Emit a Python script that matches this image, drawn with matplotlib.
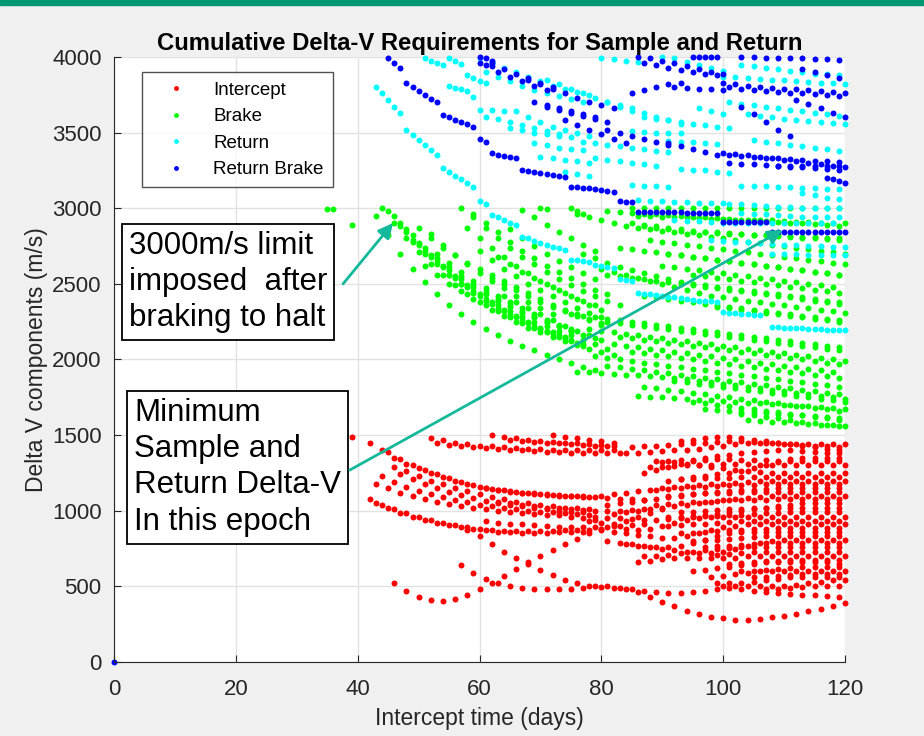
import numpy as np
import matplotlib
matplotlib.use("Agg")
import matplotlib.pyplot as plt
from matplotlib.lines import Line2D
from matplotlib.patches import Rectangle

plt.rcParams['font.family'] = ['Liberation Sans', 'DejaVu Sans']

# each curve: (first day, day step, delta-v values in m/s)
red_curves = [
    (39, 1, [1490]),
    (46, 2, [520, 470, 430, 410, 405, 415, 440, 480, 525, 570, 615, 660, 700, 740, 780, 815, 850, 880, 910, 935, 960, 985, 1010]),
    (58, 2, [870, 830, 780, 730, 690, 650, 610, 575, 545, 520, 505, 495, 490, 480, 460, 430, 400, 370, 340, 315,
             300, 290, 280, 280, 285, 295, 305, 320, 335, 350, 370, 390]),
    (57, 2, [640, 590, 550, 520, 500, 490, 485, 480, 480, 485, 490, 500, 500, 490, 480, 470, 460, 455, 455, 460,
             470, 480, 490, 480, 470, 460, 455, 450, 445, 440, 435, 430]),
    (42, 2, [1080, 1040, 1010, 985, 960, 940, 920, 905, 890, 880, 872, 868, 865, 865, 865, 865, 870, 870, 870]),
    (43, 2, [1180, 1150, 1120, 1100, 1080, 1060, 1045, 1030, 1020, 1010, 1000, 990, 985, 980, 975, 970, 960, 950, 940]),
    (44, 2, [1230, 1190, 1160, 1130, 1110, 1090, 1070, 1055, 1040, 1030, 1020, 1010, 1000, 995, 990, 985, 980, 975]),
    (42, 2, [1450, 1400, 1350, 1310, 1280, 1250, 1220, 1195, 1175, 1160, 1145, 1135, 1125, 1115, 1110, 1105, 1100, 1095, 1090]),
    (46, 2, [1290, 1260, 1230, 1200, 1175, 1150, 1130, 1110, 1090, 1075, 1060, 1050, 1040, 1030, 1020, 1015, 1010]),
    (47, 2, [1240, 1210, 1180, 1150, 1125, 1105, 1085, 1065, 1050, 1040, 1030, 1020, 1010, 1000, 995, 990]),
    (43, 2, [1050, 1015, 985, 960, 940, 920, 905, 890, 880, 870, 862, 858, 855, 855, 855, 858, 860, 862]),
    (45, 2, [1390, 1345, 1305, 1270, 1240, 1215, 1190, 1170, 1152, 1138, 1126, 1116, 1108, 1102, 1098, 1095, 1092]),
    (52, 2, [1480, 1465, 1450, 1440, 1430, 1425, 1420, 1415, 1410, 1410, 1405, 1405, 1400, 1400, 1400, 1400]),
    (53, 2, [1445, 1435, 1425, 1420, 1415, 1410, 1405, 1400, 1395, 1390, 1390, 1385, 1385, 1380, 1380, 1380]),
    (62, 2, [1500, 1490, 1480, 1470, 1460, 1455, 1450, 1445, 1440, 1435, 1430]),
    (65, 2, [1470, 1460, 1455, 1450, 1445, 1440, 1435, 1430, 1425]),
    (72, 2, [1500, 1490, 1480, 1470, 1460, 1450]),
    (61, 2, [1150, 1140, 1130, 1120, 1115, 1110, 1105, 1100, 1095, 1090, 1085, 1080, 1075, 1070]),
    (63, 2, [1060, 1050, 1040, 1030, 1020, 1015, 1010, 1005, 1000, 1000, 1000, 1005, 1010]),
    (61, 2, [930, 920, 915, 910, 905, 900, 895, 890, 890, 890, 895, 900, 905, 910]),
    (84, 2, [1380, 1385, 1390, 1395, 1400, 1405, 1410, 1420, 1430, 1440, 1450, 1450, 1445, 1440, 1440, 1440, 1440, 1440, 1440]),
    (85, 2, [1420, 1425, 1430, 1435, 1440, 1445, 1450, 1455, 1460, 1460, 1455, 1450, 1445, 1440, 1435, 1430, 1425, 1420]),
    (93, 2, [1460, 1470, 1480, 1490, 1490, 1480, 1470, 1460, 1450, 1440, 1430, 1420, 1410, 1400]),
    (87, 2, [1250, 1270, 1290, 1310, 1330, 1350, 1360, 1370, 1380, 1390, 1395, 1400, 1400, 1395, 1390, 1385, 1380]),
    (89, 2, [1330, 1332, 1334, 1336, 1338, 1340, 1340, 1338, 1336, 1334, 1332, 1330, 1330, 1330, 1330, 1330]),
    (88, 2, [1290, 1290, 1295, 1300, 1300, 1305, 1310, 1310, 1310, 1305, 1300, 1300, 1300, 1300, 1300, 1300, 1300]),
    (90, 2, [1320, 1320, 1310, 1300, 1290, 1280, 1270, 1260, 1255, 1250, 1250, 1250, 1250, 1250, 1250, 1250]),
    (91, 2, [1200, 1210, 1220, 1230, 1240, 1250, 1260, 1280, 1300, 1320, 1340, 1350, 1350, 1350, 1350]),
    (93, 2, [1210, 1212, 1214, 1216, 1218, 1220, 1222, 1224, 1225, 1225, 1225, 1225, 1225, 1225]),
    (80, 2, [1100, 1110, 1120, 1130, 1140, 1150, 1160, 1165, 1170, 1175, 1180, 1185, 1190, 1195, 1200, 1200, 1200, 1200, 1200, 1200, 1200]),
    (89, 2, [1140, 1145, 1150, 1155, 1160, 1165, 1168, 1170, 1172, 1174, 1175, 1175, 1175, 1175, 1175, 1175]),
    (81, 2, [1040, 1050, 1060, 1070, 1080, 1090, 1100, 1110, 1120, 1125, 1130, 1135, 1140, 1145, 1150, 1150, 1150, 1150, 1150, 1150]),
    (91, 2, [1100, 1105, 1110, 1115, 1118, 1120, 1122, 1124, 1125, 1125, 1125, 1125, 1125, 1125, 1125]),
    (82, 2, [980, 990, 1000, 1010, 1020, 1030, 1040, 1050, 1060, 1070, 1080, 1085, 1090, 1095, 1100, 1100, 1100, 1100, 1100, 1100]),
    (89, 2, [1040, 1045, 1050, 1055, 1060, 1065, 1068, 1070, 1072, 1074, 1075, 1075, 1075, 1075, 1075, 1075]),
    (79, 2, [960, 955, 950, 945, 940, 940, 945, 950, 960, 970, 980, 990, 1000, 1010, 1020, 1030, 1040, 1050, 1050, 1050, 1050]),
    (93, 2, [990, 995, 1000, 1005, 1010, 1012, 1015, 1018, 1020, 1020, 1020, 1020, 1020, 1020]),
    (78, 2, [930, 920, 900, 880, 870, 880, 900, 920, 940, 950, 960, 960, 960, 960, 960, 960, 960, 960, 960, 960, 960, 960]),
    (91, 2, [960, 962, 964, 966, 968, 970, 975, 980, 985, 988, 990, 990, 990, 990, 990]),
    (80, 2, [870, 860, 850, 840, 830, 820, 820, 830, 850, 870, 890, 900, 910, 910, 910, 910, 910, 910, 910, 910, 910]),
    (91, 2, [900, 905, 910, 915, 920, 925, 930, 932, 934, 935, 935, 935, 935, 935, 935]),
    (81, 2, [800, 790, 780, 770, 760, 760, 770, 790, 810, 830, 850, 860, 860, 860, 860, 860, 860, 860, 860, 860]),
    (93, 2, [850, 855, 860, 865, 870, 875, 880, 882, 884, 885, 885, 885, 885, 885]),
    (84, 2, [780, 770, 760, 750, 740, 730, 720, 720, 730, 750, 770, 790, 800, 810, 810, 810, 810, 810, 810]),
    (95, 2, [800, 805, 810, 815, 820, 825, 830, 835, 835, 835, 835, 835, 835]),
    (87, 2, [700, 700, 710, 720, 730, 740, 750, 755, 760, 760, 760, 760, 760, 760, 760, 760, 760]),
    (97, 2, [760, 765, 770, 775, 780, 785, 785, 785, 785, 785, 785, 785]),
    (86, 2, [660, 670, 680, 690, 690, 690, 690, 690, 690, 700, 700, 700, 700, 700, 700, 700, 700, 700]),
    (99, 2, [710, 715, 720, 725, 730, 730, 730, 730, 730, 730, 730]),
    (95, 2, [600, 610, 620, 630, 640, 650, 660, 660, 660, 660, 660, 660, 650]),
    (101, 2, [650, 655, 660, 665, 670, 675, 675, 675, 675, 675]),
    (98, 2, [560, 570, 580, 590, 600, 600, 600, 600, 600, 600, 600, 600]),
    (103, 2, [600, 605, 610, 615, 620, 625, 625, 625, 625]),
    (99, 2, [520, 520, 520, 530, 540, 550, 560, 560, 560, 560, 560]),
    (105, 2, [560, 565, 570, 575, 580, 580, 580, 580]),
    (100, 2, [500, 500, 500, 500, 500, 500, 510, 520, 530, 540, 540]),
    (107, 2, [480, 485, 490, 495, 500, 500, 500]),
]

green_curves = [
    (35, 1, [2995, 2995]),
    (39, 1, [2890]),
    (43, 2, [2950, 2820, 2700, 2600, 2510, 2430, 2360, 2300, 2250, 2200, 2160, 2120, 2090, 2060, 2030, 2000, 1975, 1950, 1930]),
    (44, 2, [3000, 2900, 2800, 2710, 2630, 2560, 2490, 2430, 2380, 2330, 2290, 2250, 2210, 2180, 2150, 2120, 2095, 2070, 2050, 2030]),
    (45, 2, [2980, 2880, 2790, 2720, 2650, 2590, 2530, 2480, 2430, 2390, 2350, 2310, 2280, 2250, 2220, 2190]),
    (46, 2, [2950, 2860, 2770, 2690, 2620, 2550, 2490, 2430, 2380, 2330, 2290, 2250, 2210, 2180, 2150]),
    (47, 2, [2900, 2820, 2740, 2670, 2610, 2550, 2500, 2450, 2400, 2360, 2320, 2280, 2250, 2220, 2190, 2165, 2140]),
    (48, 2, [2840, 2760, 2680, 2610, 2540, 2480, 2420, 2370, 2320, 2280, 2240, 2200, 2170, 2140, 2110]),
    (49, 2, [2780, 2700, 2630, 2560, 2500, 2440, 2390, 2340, 2300, 2260, 2220, 2190, 2160, 2130, 2100]),
    (50, 2, [2870, 2800, 2740, 2690, 2640, 2600, 2560, 2520, 2480, 2440, 2400, 2360, 2330, 2300, 2270, 2240]),
    (51, 2, [2620, 2560, 2500, 2450, 2400, 2360, 2320, 2280, 2240, 2210, 2180, 2150, 2120, 2090]),
    (52, 2, [2830, 2760, 2690, 2630, 2570, 2520, 2470, 2420, 2380, 2340, 2300]),
    (53, 2, [2700, 2640, 2580, 2520, 2470, 2420, 2380, 2340, 2300, 2260, 2230, 2200]),
    (55, 2, [2560, 2500, 2450, 2400, 2360, 2320, 2280, 2250, 2220, 2190, 2160, 2130, 2100, 2070]),
    (57, 2, [3000, 2940, 2870, 2800, 2740, 2680, 2630, 2580, 2530, 2490, 2450, 2420, 2390, 2360]),
    (58, 2, [2870, 2800, 2740, 2680, 2620, 2570, 2520, 2480, 2440, 2400, 2360, 2330]),
    (59, 2, [2960, 2900, 2840, 2780, 2720, 2670, 2620, 2580, 2540, 2500, 2460, 2430]),
    (60, 2, [2720, 2660, 2600, 2550, 2500, 2460, 2420, 2380, 2340, 2310, 2280]),
    (62, 2, [2540, 2500, 2460, 2420, 2380, 2350, 2320, 2290, 2260, 2230]),
    (63, 2, [2680, 2630, 2580, 2540, 2500, 2460, 2420, 2390, 2360]),
    (64, 2, [2420, 2380, 2340, 2300, 2260, 2220, 2190, 2160, 2130]),
    (65, 2, [2860, 2800, 2750, 2700, 2650, 2610, 2570, 2530]),
    (67, 2, [2990, 2940, 2890, 2840, 2800, 2760, 2720]),
    (70, 1, [3000, 2995]),
    (75, 1, [3000, 2980, 2960]),
    (76, 2, [2960, 2940, 2920, 2900, 2880, 2870, 2860, 2850, 2840, 2830, 2820, 2810, 2800, 2790, 2780, 2770, 2760, 2750, 2740, 2730, 2720, 2710, 2700]),
    (81, 2, [2980, 2975, 2970, 2965, 2960, 2955, 2950, 2945, 2940, 2935, 2930, 2925, 2920, 2915, 2910, 2905, 2900, 2895, 2890, 2885]),
    (85, 2, [3000, 3000, 3000, 3000, 3000, 3000, 3000, 3000, 3000, 3000, 3000, 3000, 3000, 3000, 3000, 3000, 3000, 3000]),
    (86, 2, [2950, 2950, 2945, 2940, 2940, 2935, 2930, 2930, 2925, 2920, 2920, 2920, 2915, 2910, 2910, 2905, 2900, 2900]),
    (85, 2, [2900, 2890, 2880, 2870, 2860, 2850, 2845, 2840, 2835, 2830, 2825, 2820, 2815, 2810, 2805, 2800, 2795, 2790]),
    (87, 2, [2880, 2870, 2860, 2850, 2845, 2840, 2835, 2830, 2830, 2825, 2820, 2820, 2815, 2810, 2810, 2805, 2800]),
    (88, 2, [2790, 2780, 2770, 2760, 2750, 2740, 2730, 2720, 2710, 2700, 2690, 2680, 2670, 2660, 2650, 2640, 2630]),
    (83, 2, [2740, 2730, 2720, 2710, 2700, 2690, 2680, 2670, 2660, 2650, 2640, 2630, 2620, 2610, 2600, 2590, 2580, 2570, 2560]),
    (91, 2, [2700, 2690, 2680, 2670, 2660, 2650, 2640, 2630, 2620, 2610, 2600, 2590, 2580, 2570, 2560]),
    (77, 2, [2700, 2670, 2640, 2610, 2590, 2570, 2550, 2530, 2510, 2500, 2490, 2480, 2470, 2460, 2450, 2440, 2430, 2420, 2410, 2400, 2390, 2380]),
    (80, 2, [2600, 2580, 2560, 2540, 2520, 2500, 2480, 2460, 2440, 2420, 2410, 2400, 2390, 2380, 2370, 2360, 2350, 2340, 2330, 2320, 2310]),
    (81, 2, [2560, 2550, 2540, 2530, 2520, 2510, 2500, 2490, 2480, 2470, 2460, 2450, 2440, 2430, 2420, 2410, 2400, 2390, 2380, 2370]),
    (90, 2, [2620, 2610, 2600, 2590, 2580, 2570, 2560, 2550, 2540, 2530, 2520, 2510, 2500, 2490, 2480]),
    (95, 2, [2560, 2550, 2540, 2530, 2520, 2510, 2500, 2490, 2480, 2470, 2460, 2450, 2440]),
    (87, 2, [2420, 2410, 2400, 2390, 2380, 2370, 2360, 2350, 2340, 2330, 2320, 2310, 2300, 2290, 2280, 2270, 2260]),
    (99, 2, [2350, 2340, 2330, 2320, 2310, 2300, 2290, 2280, 2270, 2260, 2250]),
    (75, 2, [2300, 2290, 2280, 2270, 2260, 2250, 2240, 2230, 2220, 2210, 2200, 2190, 2180, 2170, 2160, 2150, 2140, 2130, 2120, 2110, 2100, 2090, 2080]),
    (81, 2, [2250, 2240, 2230, 2220, 2210, 2200, 2190, 2180, 2170, 2160, 2150, 2140, 2130, 2120, 2110, 2100, 2090, 2080, 2070, 2060]),
    (78, 2, [2200, 2190, 2180, 2170, 2160, 2150, 2140, 2130, 2120, 2110, 2100, 2090, 2080, 2070, 2060, 2050, 2040, 2030, 2020, 2010, 2000, 1990]),
    (83, 2, [2150, 2140, 2130, 2120, 2110, 2100, 2090, 2080, 2070, 2060, 2050, 2040, 2030, 2020, 2010, 2000, 1990, 1980, 1970]),
    (82, 2, [2100, 2090, 2080, 2070, 2060, 2050, 2040, 2030, 2020, 2010, 2000, 1990, 1980, 1970, 1960, 1950, 1940, 1930, 1920]),
    (85, 2, [2050, 2040, 2030, 2020, 2010, 2000, 1990, 1980, 1970, 1960, 1950, 1940, 1930, 1920, 1910, 1900, 1890, 1880]),
    (79, 2, [2020, 2010, 2000, 1990, 1980, 1970, 1960, 1950, 1940, 1930, 1920, 1910, 1900, 1890, 1880, 1870, 1860, 1850, 1840, 1830, 1820]),
    (81, 2, [1960, 1950, 1940, 1930, 1920, 1910, 1900, 1890, 1880, 1870, 1860, 1850, 1840, 1830, 1820, 1810, 1800, 1790, 1780, 1770]),
    (76, 2, [1920, 1915, 1910, 1905, 1900, 1895, 1890, 1885, 1880, 1870, 1860, 1850, 1840, 1830, 1820, 1810, 1800, 1790, 1780, 1770, 1760, 1750, 1740]),
    (92, 2, [1860, 1850, 1840, 1830, 1820, 1810, 1800, 1790, 1780, 1770, 1760, 1750, 1740, 1730, 1720]),
    (87, 2, [1820, 1810, 1800, 1790, 1780, 1770, 1760, 1750, 1740, 1730, 1720, 1710, 1700, 1690, 1680, 1670, 1660]),
    (86, 2, [1760, 1755, 1750, 1745, 1740, 1735, 1730, 1725, 1720, 1715, 1710, 1705, 1700, 1695, 1690, 1685, 1680, 1675]),
    (95, 2, [1720, 1710, 1700, 1690, 1680, 1670, 1660, 1650, 1640, 1630, 1620, 1610, 1600]),
    (97, 2, [1670, 1665, 1660, 1655, 1650, 1645, 1640, 1635, 1630, 1625, 1620, 1615]),
    (103, 2, [1640, 1630, 1620, 1610, 1600, 1590, 1580, 1570, 1560]),
    (104, 2, [1600, 1595, 1590, 1585, 1580, 1575, 1570, 1565, 1560]),
]

cyan_curves = [
    (43, 1, [3800, 3760, 3715, 3670, 3630]),
    (48, 1, [3517, 3485, 3450, 3420, 3385, 3352]),
    (54, 1, [3266, 3240, 3215, 3190, 3165, 3140]),
    (60, 1, [3045, 3030]),
    (62, 1, [2955, 2940, 2920, 2905, 2890]),
    (67, 1, [2810, 2800, 2785, 2770, 2755, 2745, 2735, 2724]),
    (75, 1, [2660, 2655, 2650, 2645, 2625, 2620, 2612, 2605]),
    (83, 1, [2530, 2525, 2520]),
    (86, 1, [2440, 2435, 2430, 2425, 2420, 2415, 2410, 2405, 2400, 2395, 2390, 2388, 2385, 2380]),
    (100, 1, [2314, 2310, 2306, 2302, 2298, 2296, 2294]),
    (108, 1, [2215, 2213, 2211, 2209, 2207, 2205, 2203, 2201, 2199, 2197, 2195, 2195, 2195]),
    (51, 1, [3993, 3975, 3960, 3947]),
    (55, 1, [3995, 3975, 3955]),
    (55, 1, [3805, 3795, 3785, 3775]),
    (58, 1, [3880, 3860, 3840, 3830]),
    (59, 1, [3735]),
    (60, 2, [3990, 3960, 3930, 3900, 3870, 3840, 3810, 3790, 3770, 3750]),
    (61, 2, [3900, 3870, 3840, 3810, 3780, 3760, 3740, 3720, 3700]),
    (60, 2, [3650, 3650, 3645, 3640, 3600, 3570, 3540, 3520, 3500, 3480]),
    (61, 2, [3600, 3590, 3570, 3550, 3530, 3510, 3490]),
    (65, 2, [3530, 3515, 3500, 3490, 3480, 3470]),
    (69, 2, [3430, 3415, 3400, 3390, 3385]),
    (70, 2, [3340, 3330, 3320, 3310, 3300]),
    (74, 2, [3240, 3225, 3210]),
    (79, 2, [3330, 3320, 3310, 3300, 3290, 3280]),
    (80, 2, [3995, 3985, 3975, 3965]),
    (71, 2, [3850, 3820, 3790, 3760, 3730, 3700, 3670, 3640]),
    (81, 2, [3700, 3680, 3660, 3630, 3600, 3580, 3560]),
    (87, 2, [3600, 3590, 3580, 3570, 3560, 3550, 3540, 3530]),
    (85, 2, [3510, 3505, 3500, 3500, 3495]),
    (77, 2, [3440, 3430, 3420, 3410, 3400, 3390, 3380, 3370]),
    (85, 2, [3155, 3150, 3145, 3140]),
    (90, 2, [4000, 3990, 3970, 3950, 3930, 3910]),
    (91, 2, [3445, 3440, 3435, 3430, 3425]),
    (93, 2, [3260, 3255, 3250, 3240, 3230]),
    (96, 2, [3660, 3640, 3620]),
    (100, 2, [3870, 3865, 3860, 3855, 3850, 3845, 3840, 3835, 3830, 3825, 3820]),
    (101, 2, [3700, 3690, 3680, 3670, 3660, 3650, 3640, 3630, 3620, 3610]),
    (105, 2, [3450, 3440, 3430, 3420, 3410, 3400, 3390, 3380]),
    (103, 2, [3150, 3147, 3144, 3141, 3138, 3135, 3132, 3129, 3126]),
    (104, 2, [3620, 3610, 3600, 3590, 3580, 3575, 3570, 3565, 3560]),
    (103, 2, [3950, 3940, 3930, 3920, 3910, 3900, 3890, 3885, 3880]),
    (113, 2, [3100, 3085, 3070, 3060]),
    (101, 2, [3030, 3025, 3020, 3015, 3010, 3005, 3000, 3000, 3000, 3000]),
    (92, 2, [2922, 2918, 2914, 2910, 2905, 2900, 2900, 2900, 2900, 2900, 2900, 2900, 2900, 2900]),
    (98, 2, [2790, 2785, 2780, 2775, 2770, 2765, 2760, 2755, 2750, 2748, 2745, 2744]),
    (108, 2, [2700, 2698, 2696, 2694, 2692, 2690, 2688]),
    (103, 2, [2970, 2965, 2960, 2955, 2950, 2945, 2942, 2940, 2940]),
    (86, 2, [3055, 3050, 3045, 3040, 3038, 3036, 3035, 3034]),
]

blue_curves = [
    (0, 1, [0]),
    (45, 1, [3990, 3960, 3930]),
    (48, 1, [3830, 3800, 3775, 3750, 3725, 3700]),
    (54, 1, [3616, 3600, 3585, 3570, 3555, 3537]),
    (60, 1, [3458, 3440]),
    (62, 1, [3365, 3355, 3345, 3338, 3330]),
    (67, 1, [3250, 3243, 3237, 3230, 3224, 3218, 3212, 3207]),
    (75, 1, [3140, 3138, 3136, 3134, 3125, 3118, 3112, 3107]),
    (83, 1, [3045, 3042, 3040]),
    (86, 1, [2975, 2975, 2974, 2974, 2973, 2973, 2972, 2972, 2971, 2970, 2970, 2969, 2969, 2968]),
    (100, 1, [2910, 2910, 2910, 2910, 2910, 2910, 2910, 2910]),
    (108, 1, [2843, 2843, 2843, 2843, 2843, 2843, 2843, 2843, 2843, 2843, 2843, 2843, 2843]),
    (60, 1, [4000, 3990, 3975]),
    (60, 1, [3960, 3950, 3940]),
    (62, 2, [3960, 3920, 3890, 3860, 3830, 3800]),
    (63, 2, [3900, 3870, 3840, 3810, 3780]),
    (68, 2, [3850, 3820, 3790, 3760, 3730, 3700, 3680, 3660]),
    (69, 2, [3700, 3680, 3660, 3640, 3620, 3600]),
    (71, 2, [3670, 3650, 3630, 3610, 3590, 3570]),
    (74, 2, [3580, 3550, 3520, 3490, 3460, 3430]),
    (81, 2, [3517, 3500, 3480, 3460, 3440, 3420]),
    (85, 2, [3760, 3780, 3800, 3820, 3830]),
    (86, 2, [4000, 3990, 3975, 3960, 3940, 3920, 3900, 3890]),
    (87, 2, [3960, 3945, 3930, 3915, 3900, 3890, 3880]),
    (91, 2, [3430, 3410, 3390, 3370, 3350]),
    (92, 2, [3800, 3795, 3790, 3785, 3780]),
    (95, 1, [4000, 4000, 4000, 4000, 4000]),
    (100, 2, [3365, 3360, 3350, 3340, 3330, 3320, 3310, 3300, 3290, 3280, 3270]),
    (101, 2, [3350, 3345, 3340, 3335, 3330, 3325, 3320, 3315, 3310, 3305]),
    (101, 2, [3300, 3295, 3290, 3285, 3280, 3275, 3270, 3265, 3260, 3255]),
    (109, 2, [3280, 3280, 3280, 3280, 3280, 3280]),
    (100, 2, [3830, 3820, 3810, 3800, 3795, 3790, 3785, 3780, 3775, 3770, 3765]),
    (101, 2, [3800, 3790, 3780, 3775, 3770, 3765, 3760, 3755, 3750, 3745]),
    (103, 2, [4000, 4000, 3995, 3995, 3990, 3990, 3985, 3985, 3980]),
    (103, 2, [3670, 3620, 3570, 3520, 3480]),
    (112, 2, [3715, 3690, 3660, 3630, 3600]),
    (113, 2, [3920, 3900, 3880, 3860]),
    (117, 1, [3200, 3190, 3180, 3170]),
]

series_names = ['Intercept', 'Brake', 'Return', 'Return Brake']
series_colors = ['#ff0000', '#00ff00', '#00ffff', '#0000ff']


def unpack(curves):
    xs, ys = [], []
    for start, step, vals in curves:
        for i, v in enumerate(vals):
            xs.append(start + step * i)
            ys.append(v)
    return np.array(xs), np.array(ys)


fig = plt.figure(figsize=(9.24, 7.36), dpi=100)
fig.patch.set_facecolor('#f0f0f0')
fig.patches.append(Rectangle((0, 0.993), 1, 0.007, transform=fig.transFigure,
                             color='#009872', zorder=0))
ax = fig.add_axes([0.1234, 0.1005, 0.7911, 0.8221])

for curves, col in zip([red_curves, green_curves, cyan_curves, blue_curves], series_colors):
    x, y = unpack(curves)
    ax.plot(x, y, 'o', color=col, markersize=4.3, markeredgewidth=0, clip_on=False)

ax.set_xlim(0, 120)
ax.set_ylim(0, 4000)
ax.set_xticks(np.arange(0, 121, 20))
ax.set_yticks(np.arange(0, 4001, 500))
ax.grid(True, color='#e2e2e2', linewidth=1)
ax.set_axisbelow(True)
for s in ['top', 'right']:
    ax.spines[s].set_visible(False)
for s in ['left', 'bottom']:
    ax.spines[s].set_color('#262626')
ax.tick_params(direction='in', length=5, labelsize=16, colors='#262626', pad=9)
ax.tick_params(axis='x', pad=12)

ax.set_title('Cumulative Delta-V Requirements for Sample and Return',
             fontsize=17.2, fontweight='bold', pad=5)
ax.set_xlabel('Intercept time (days)', fontsize=16.5, color='#262626', labelpad=5)
ax.set_ylabel('Delta V components (m/s)', fontsize=16.5, color='#262626', labelpad=3)

handles = [Line2D([], [], marker='o', linestyle='none', color=c, markersize=3.5,
                  markeredgewidth=0) for c in series_colors]
leg = ax.legend(handles, series_names, loc='upper left', bbox_to_anchor=(0.038, 0.975),
                borderaxespad=0, fontsize=13.5, fancybox=False, edgecolor='#262626',
                handlelength=2.6, handletextpad=0.7, labelspacing=0.5, borderpad=0.5)
leg.get_frame().set_linewidth(1.0)

arrow_col = '#13b99a'
box = dict(boxstyle='square,pad=0.22', facecolor='white', edgecolor='black', linewidth=1.3)
ax.text(2.4, 2850, '3000m/s limit\nimposed  after\nbraking to halt', fontsize=22.5,
        va='top', ha='left', linespacing=1.27, bbox=box, zorder=5)
ax.text(3.3, 1745, 'Minimum\nSample and\nReturn Delta-V\nIn this epoch', fontsize=22.5,
        va='top', ha='left', linespacing=1.27, bbox=box, zorder=5)
ax.annotate('', xy=(45.8, 2902), xytext=(37.6, 2500),
            arrowprops=dict(arrowstyle='-|>', color=arrow_col, lw=2, mutation_scale=22,
                            shrinkA=0, shrinkB=0), zorder=6)
ax.annotate('', xy=(109.8, 2856), xytext=(38.7, 1269),
            arrowprops=dict(arrowstyle='-|>', color=arrow_col, lw=2, mutation_scale=22,
                            shrinkA=0, shrinkB=0), zorder=6)

fig.savefig('out.png', dpi=100, facecolor=fig.get_facecolor())
